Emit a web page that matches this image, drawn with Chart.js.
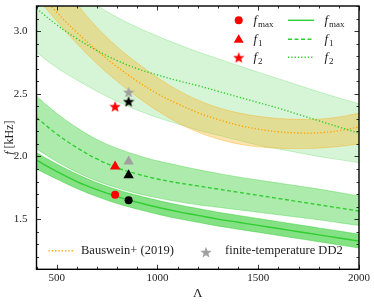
<!DOCTYPE html>
<html lang="en">
<head>
<meta charset="UTF-8">
<title>f vs Lambda</title>
<style>
  body {margin:0;background:#fff;}
  #wrap {width:374px;height:304px;position:relative;}
</style>
</head>
<body>
<div id="wrap"><canvas id="chart"></canvas></div>
<script src="https://cdn.jsdelivr.net/npm/chart.js"></script>
<script>
// tidal deformability grid
const lam = [400,500,600,700,800,900,1000,1100,1200,1300,1400,1500,1600,1700,1800,1900,2000];

// fits (kHz)
const fMaxLine = [1.97,1.88,1.80,1.735,1.68,1.635,1.595,1.56,1.53,1.50,1.475,1.45,1.425,1.40,1.375,1.35,1.325];
const fMaxLo   = [1.90,1.82,1.745,1.68,1.625,1.58,1.54,1.505,1.475,1.445,1.42,1.395,1.37,1.345,1.32,1.295,1.27];
const fMaxHi   = [2.03,1.94,1.86,1.79,1.735,1.69,1.65,1.615,1.585,1.555,1.53,1.505,1.48,1.455,1.43,1.405,1.38];

const f1Line = [2.31,2.18,2.07,1.98,1.91,1.86,1.82,1.79,1.765,1.74,1.715,1.69,1.665,1.64,1.615,1.59,1.565];
const f1Lo   = [2.06,1.96,1.875,1.805,1.75,1.705,1.67,1.64,1.615,1.595,1.575,1.555,1.535,1.515,1.495,1.472,1.45];
const f1Hi   = [2.48,2.345,2.23,2.135,2.065,2.01,1.965,1.93,1.895,1.865,1.837,1.812,1.788,1.764,1.74,1.713,1.685];

const f2Line = [3.18,3.05,2.94,2.845,2.765,2.70,2.65,2.605,2.565,2.52,2.475,2.43,2.385,2.335,2.285,2.235,2.185];
const f2Lo   = [2.83,2.71,2.61,2.52,2.44,2.37,2.31,2.26,2.21,2.17,2.13,2.09,2.06,2.03,2.00,1.975,1.95];
const f2Hi   = [3.6,3.45,3.32,3.205,3.11,3.03,2.96,2.895,2.835,2.78,2.725,2.672,2.62,2.568,2.516,2.467,2.42];

// Bauswein+ (2019)
const bausLine = [3.33,3.15,2.99,2.845,2.715,2.60,2.50,2.42,2.35,2.295,2.25,2.218,2.197,2.187,2.188,2.205,2.235];
const bausLo   = [3.27,3.08,2.90,2.74,2.60,2.475,2.365,2.27,2.195,2.14,2.10,2.077,2.066,2.063,2.067,2.08,2.10];
const bausHi   = [3.72,3.45,3.22,3.03,2.875,2.745,2.63,2.53,2.45,2.39,2.348,2.32,2.303,2.296,2.298,2.315,2.345];

// simulations: [fmax, f1, f2]
const redLam = 790;
const redF = [1.695, 1.92, 2.40];
const blackLam = 857;
const blackF = [1.65, 1.85, 2.44];
const grayLam = 857;
const grayF = [1.96, 2.515];   // f1, f2 (finite-temperature DD2)

const xTicks = [500,1000,1500,2000];
const yTicks = [1.5,2.0,2.5,3.0];

const GREEN = 'rgb(50,205,50)';
const FONT = "'Liberation Serif', 'DejaVu Serif', serif";

const pts = ys => lam.map((x,i) => ({x:x, y:ys[i]}));

function starImg(color, size){
  const c = document.createElement('canvas');
  c.width = size; c.height = size;
  const g = c.getContext('2d');
  const cx = size/2, cy = size/2 + size*0.06, R = size/2, r = R*0.42;
  g.beginPath();
  for (let k=0;k<10;k++){
    const a = -Math.PI/2 + k*Math.PI/5;
    const rr = k%2 ? r : R;
    g.lineTo(cx + rr*Math.cos(a), cy + rr*Math.sin(a));
  }
  g.closePath();
  g.fillStyle = color;
  g.fill();
  return c;
}

function band(lo, hi, color, edge, order){
  return [
    {data:pts(lo), borderColor:edge, borderWidth:0.8, pointRadius:0, fill:false, order:order, tension:0.4},
    {data:pts(hi), borderColor:edge, borderWidth:0.8, pointRadius:0, fill:'-1', backgroundColor:color, order:order, tension:0.4}
  ];
}

function line(ys, color, dash, order){
  return {data:pts(ys), borderColor:color, borderWidth:1.4, borderDash:dash, pointRadius:0, fill:false,
          order:order, tension:0.4};
}

function marker(x, y, color, style, radius){
  return {type:'scatter', data:[{x:x, y:y}], pointStyle:style, pointRadius:radius,
          backgroundColor:color, borderColor:color, borderWidth:0, order:1};
}

const redStar = starImg('#ff0000', 12);
const blackStar = starImg('#000000', 12);
const grayStar = starImg('#a0a0a0', 12);

const datasets = [].concat(
  band(f2Lo, f2Hi, 'rgba(50,205,50,0.2)', 'rgba(50,205,50,0.3)', 10),
  band(f1Lo, f1Hi, 'rgba(50,205,50,0.4)', 'rgba(50,205,50,0.45)', 9),
  band(fMaxLo, fMaxHi, 'rgba(50,205,50,0.6)', 'rgba(50,205,50,0.6)', 8),
  band(bausLo, bausHi, 'rgba(255,165,0,0.3)', 'rgba(255,165,0,0.45)', 7),
  [
    line(fMaxLine, GREEN, [], 3),
    line(f1Line, GREEN, [4,2.5], 3),
    line(f2Line, GREEN, [1.3,2], 3),
    line(bausLine, 'rgb(255,165,0)', [1.3,2], 3),
    marker(grayLam, grayF[0], '#a0a0a0', 'triangle', 6),
    marker(grayLam, grayF[1], '#a0a0a0', grayStar, 6),
    marker(redLam, redF[0], '#ff0000', 'circle', 4),
    marker(redLam, redF[1], '#ff0000', 'triangle', 6),
    marker(redLam, redF[2], '#ff0000', redStar, 6),
    marker(blackLam, blackF[0], '#000000', 'circle', 4),
    marker(blackLam, blackF[1], '#000000', 'triangle', 6),
    marker(blackLam, blackF[2], '#000000', blackStar, 6)
  ]
);

// f with subscript, italic f
function fLabel(g, x, y, sub, size){
  g.font = 'italic ' + size + 'px ' + FONT;
  g.textAlign = 'left';
  g.textBaseline = 'alphabetic';
  g.fillText('f', x, y);
  const w = g.measureText('f').width;
  g.font = Math.round(size*0.72) + 'px ' + FONT;
  g.fillText(sub, x + w + 1, y + size*0.22);
}

const axesPlugin = {
  id: 'axesPlugin',
  afterDraw(chart){
    const g = chart.ctx;
    const a = chart.chartArea;
    const xs = chart.scales.x, ys = chart.scales.y;
    g.save();
    g.strokeStyle = '#000';
    g.fillStyle = '#222';

    // minor / major ticks, inward on all four sides
    g.lineWidth = 0.8;
    g.beginPath();
    for (let v = 400; v <= 2000; v += 100){
      const px = Math.round(xs.getPixelForValue(v)) + 0.5;
      const len = v % 500 === 0 ? 4.5 : 2.5;
      g.moveTo(px, a.bottom); g.lineTo(px, a.bottom - len);
      g.moveTo(px, a.top); g.lineTo(px, a.top + len);
    }
    for (let k = 11; k <= 32; k++){
      const v = k/10;
      const py = Math.round(ys.getPixelForValue(v)) + 0.5;
      const len = k % 5 === 0 ? 4.5 : 2.5;
      g.moveTo(a.left, py); g.lineTo(a.left + len, py);
      g.moveTo(a.right, py); g.lineTo(a.right - len, py);
    }
    g.stroke();

    // frame
    g.lineWidth = 1.4;
    g.strokeRect(a.left, a.top, a.right - a.left, a.bottom - a.top);

    // tick labels
    g.font = '11px ' + FONT;
    g.textAlign = 'center';
    g.textBaseline = 'middle';
    xTicks.forEach(v => g.fillText(String(v), xs.getPixelForValue(v), a.bottom + 9));
    g.textAlign = 'right';
    yTicks.forEach(v => g.fillText(v.toFixed(1), a.left - 9, ys.getPixelForValue(v)));

    // axis titles
    g.font = '13px ' + FONT;
    g.textAlign = 'center';
    g.fillText('\u039b', (a.left + a.right)/2, a.bottom + 24);
    g.save();
    g.translate(10, (a.top + a.bottom)/2);
    g.rotate(-Math.PI/2);
    g.font = 'italic 12px ' + FONT;
    const wf = g.measureText('f ').width;
    g.font = '12px ' + FONT;
    const wk = g.measureText('[kHz]').width;
    const x0 = -(wf + wk)/2;
    g.font = 'italic 12px ' + FONT;
    g.textAlign = 'left';
    g.fillText('f', x0, 0);
    g.font = '12px ' + FONT;
    g.fillText('[kHz]', x0 + wf, 0);
    g.restore();

    // legend, top right
    const lx = 238.7, rows = [20.3, 39.3, 57.3], subs = ['max','1','2'];
    g.fillStyle = '#ff0000';
    g.beginPath(); g.arc(lx, rows[0], 4, 0, 2*Math.PI); g.fill();
    g.beginPath();
    g.moveTo(lx, rows[1] - 5); g.lineTo(lx + 5, rows[1] + 3.5); g.lineTo(lx - 5, rows[1] + 3.5); g.closePath(); g.fill();
    g.drawImage(redStar, lx - 6, rows[2] - 6);
    g.fillStyle = '#222';
    rows.forEach((y, i) => fLabel(g, 253.5, y + 4, subs[i], 13));
    const dashes = [[], [4,2.5], [1.3,2]];
    g.strokeStyle = GREEN;
    g.lineWidth = 1.4;
    rows.forEach((y, i) => {
      g.setLineDash(dashes[i]);
      g.beginPath(); g.moveTo(288, y); g.lineTo(314, y); g.stroke();
    });
    g.setLineDash([]);
    rows.forEach((y, i) => fLabel(g, 324.5, y + 4, subs[i], 13));

    // legend, bottom
    g.strokeStyle = 'rgb(255,165,0)';
    g.setLineDash([1.3,2]);
    g.beginPath(); g.moveTo(48.5, 250.7); g.lineTo(73.5, 250.7); g.stroke();
    g.setLineDash([]);
    g.fillStyle = '#222';
    g.font = '12.5px ' + FONT;
    g.textAlign = 'left';
    g.textBaseline = 'middle';
    g.fillText('Bauswein+ (2019)', 81, 251);
    g.drawImage(grayStar, 200, 246);
    g.fillText('finite-temperature DD2', 225, 251);
    g.restore();
  }
};

new Chart(document.getElementById('chart'), {
  type: 'line',
  data: {datasets: datasets},
  options: {
    responsive: true,
    maintainAspectRatio: false,
    devicePixelRatio: 1,
    animation: false,
    layout: {padding: {left: 36.5, right: 15, top: 4, bottom: 34.7}},
    plugins: {legend: {display: false}, tooltip: {enabled: false}},
    scales: {
      x: {type: 'linear', min: 400, max: 2000, display: false},
      y: {type: 'linear', min: 1.1, max: 3.2, display: false}
    }
  },
  plugins: [axesPlugin]
});
</script>
</body>
</html>
